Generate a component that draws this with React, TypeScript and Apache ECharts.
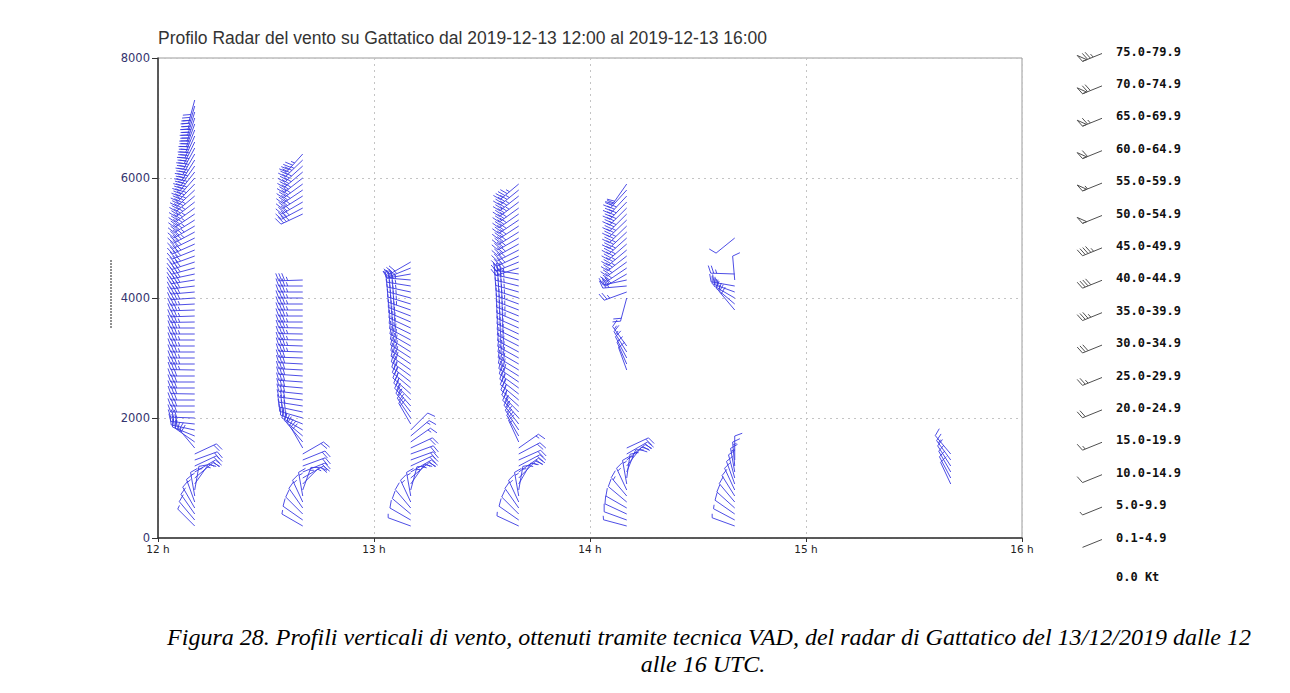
import React, { useEffect, useRef } from "react";
import * as echarts from "echarts";

// Observation times (decimal hours) of the seven VAD profiles
const TIMES = [12.17, 12.67, 13.17, 13.67, 14.17, 14.67, 15.67];

// Each profile: [height m, direction deg (from), speed kt]
const profile1210: number[][] = [
  [200, 315, 8], [300, 320, 10], [400, 325, 12], [500, 330, 14], [600, 340, 15], [700, 350, 16], [800, 10, 16], [900, 35, 18],
  [1000, 50, 18], [1100, 60, 20], [1200, 65, 22], [1300, 70, 22], [1400, 65, 20],
  [1500, 320, 22], [1600, 305, 25], [1700, 292, 28], [1800, 282, 30], [1900, 276, 30],
  [2000, 272, 30], [2100, 270, 31], [2200, 270, 32], [2300, 270, 32], [2400, 271, 33], [2500, 270, 33], [2600, 270, 34],
  [2700, 270, 34], [2800, 271, 35], [2900, 270, 35], [3000, 270, 35], [3100, 270, 36], [3200, 270, 36], [3300, 270, 37],
  [3400, 270, 37], [3500, 270, 38], [3600, 269, 38], [3700, 268, 38], [3800, 268, 39], [3900, 267, 39], [4000, 266, 40],
  [4100, 265, 40], [4200, 263, 40], [4300, 261, 41], [4400, 258, 41], [4500, 255, 42], [4600, 252, 42], [4700, 250, 43],
  [4800, 248, 43], [4900, 246, 44], [5000, 244, 44], [5100, 242, 45], [5200, 240, 45], [5300, 238, 45], [5400, 236, 46],
  [5500, 234, 46], [5600, 232, 46], [5700, 230, 47], [5800, 227, 47], [5900, 224, 47], [6000, 221, 48], [6100, 218, 48],
  [6200, 215, 48], [6300, 212, 48], [6400, 210, 49], [6500, 208, 49], [6600, 206, 49], [6700, 204, 49], [6800, 202, 48],
  [6900, 200, 47], [7000, 198, 46], [7100, 197, 44], [7200, 196, 42], [7300, 195, 40],
];

const profile1240: number[][] = [
  [200, 300, 8], [300, 305, 10], [400, 315, 12], [500, 325, 14], [600, 335, 15], [700, 350, 16], [800, 20, 16], [900, 45, 18],
  [1000, 60, 20], [1100, 68, 22], [1200, 70, 22], [1300, 68, 22], [1400, 60, 20],
  [1500, 330, 20], [1600, 320, 22], [1700, 310, 24], [1800, 300, 26], [1900, 292, 28], [2000, 286, 28], [2100, 282, 30],
  [2200, 279, 30], [2300, 277, 31], [2400, 276, 31], [2500, 275, 32], [2600, 274, 32], [2700, 274, 33], [2800, 273, 33],
  [2900, 273, 34], [3000, 272, 34], [3100, 272, 35], [3200, 272, 35], [3300, 271, 35], [3400, 271, 36], [3500, 271, 36],
  [3600, 270, 36], [3700, 270, 37], [3800, 270, 37], [3900, 270, 38], [4000, 270, 38], [4100, 270, 38], [4200, 270, 39],
  [4300, 268, 39],
  [5400, 245, 40], [5500, 242, 41], [5600, 240, 42], [5700, 238, 42], [5800, 236, 43], [5900, 234, 43], [6000, 232, 44],
  [6100, 230, 44], [6200, 228, 44], [6300, 226, 45], [6400, 222, 45],
];

const profile1310: number[][] = [
  [200, 290, 8], [300, 300, 10], [400, 310, 12], [500, 320, 14], [600, 335, 15], [700, 350, 16], [800, 15, 16], [900, 35, 18],
  [1000, 50, 18], [1100, 60, 20], [1200, 65, 22], [1300, 70, 22], [1400, 70, 22], [1500, 65, 20], [1600, 55, 18],
  [1700, 50, 16], [1800, 45, 14],
  [1900, 330, 20], [2000, 326, 22], [2100, 322, 24], [2200, 318, 25], [2300, 315, 26], [2400, 312, 27], [2500, 310, 28],
  [2600, 308, 28], [2700, 306, 29], [2800, 305, 30], [2900, 304, 30], [3000, 303, 31], [3100, 302, 31], [3200, 300, 32],
  [3300, 298, 32], [3400, 296, 33], [3500, 295, 33], [3600, 293, 34], [3700, 291, 34], [3800, 289, 35], [3900, 287, 35],
  [4000, 285, 36], [4100, 282, 36], [4200, 279, 37], [4300, 275, 37], [4400, 260, 36], [4500, 248, 35], [4600, 240, 34],
];

const profile1340: number[][] = [
  [200, 295, 8], [300, 305, 10], [400, 315, 12], [500, 325, 14], [600, 335, 15], [700, 350, 16], [800, 10, 17], [900, 30, 18],
  [1000, 45, 18], [1100, 55, 20], [1200, 62, 22], [1300, 66, 22], [1400, 62, 20], [1500, 55, 18],
  [1600, 335, 18], [1700, 330, 20], [1800, 326, 22], [1900, 322, 24], [2000, 318, 25], [2100, 315, 26], [2200, 312, 27],
  [2300, 310, 28], [2400, 308, 28], [2500, 306, 29], [2600, 304, 30], [2700, 302, 30], [2800, 301, 31], [2900, 300, 31],
  [3000, 299, 32], [3100, 298, 32], [3200, 297, 33], [3300, 296, 33], [3400, 295, 34], [3500, 294, 34], [3600, 293, 35],
  [3700, 292, 35], [3800, 291, 36], [3900, 290, 36], [4000, 288, 37], [4100, 286, 37], [4200, 284, 38], [4300, 282, 38],
  [4400, 279, 38],
  [4500, 252, 39], [4600, 248, 40], [4700, 245, 40], [4800, 243, 41], [4900, 241, 41], [5000, 240, 42], [5100, 238, 42],
  [5200, 237, 43], [5300, 236, 43], [5400, 235, 44], [5500, 234, 44], [5600, 233, 45], [5700, 232, 45], [5800, 231, 45],
  [5900, 230, 46],
];

const profile1410: number[][] = [
  [200, 285, 8], [300, 290, 10], [400, 295, 12], [500, 300, 13], [600, 310, 14], [700, 320, 15], [800, 335, 16], [900, 350, 17],
  [1000, 8, 18], [1100, 22, 18], [1200, 38, 20], [1300, 50, 20], [1400, 60, 22], [1500, 65, 22],
  [2800, 340, 12], [2900, 336, 14], [3000, 332, 14], [3100, 328, 15], [3200, 324, 16],
  [4000, 195, 20], [4100, 250, 25], [4200, 265, 28], [4300, 258, 30], [4400, 240, 32], [4500, 236, 33], [4600, 234, 34],
  [4700, 232, 35], [4800, 230, 36], [4900, 229, 36], [5000, 228, 37], [5100, 227, 38], [5200, 226, 38], [5300, 226, 39],
  [5400, 225, 40], [5500, 225, 40], [5600, 224, 41], [5700, 223, 42], [5800, 222, 30], [5900, 215, 20],
];

const profile1440: number[][] = [
  [200, 290, 8], [300, 298, 9], [400, 305, 10], [500, 312, 11], [600, 320, 12], [700, 328, 13], [800, 335, 13], [900, 340, 14],
  [1000, 345, 14], [1100, 350, 15], [1200, 355, 15], [1300, 0, 12],
  [3800, 320, 22], [3900, 310, 24], [4000, 300, 25], [4100, 290, 26], [4200, 280, 27], [4300, 355, 12], [4400, 272, 28],
  [5000, 231, 10],
];

const profile1540: number[][] = [
  [900, 335, 10], [1000, 332, 12], [1100, 330, 12], [1200, 327, 14], [1300, 324, 15], [1400, 320, 12],
];

const PROFILES = [profile1210, profile1240, profile1310, profile1340, profile1410, profile1440, profile1540];

// Legend (speed classes, knots)
const LEGEND_LABELS = [
  "75.0-79.9", "70.0-74.9", "65.0-69.9", "60.0-64.9", "55.0-59.9", "50.0-54.9", "45.0-49.9", "40.0-44.9",
  "35.0-39.9", "30.0-34.9", "25.0-29.9", "20.0-24.9", "15.0-19.9", "10.0-14.9", "5.0-9.9", "0.1-4.9",
];
const LEGEND_SPEEDS = [77, 72, 67, 62, 57, 52, 47, 42, 37, 32, 27, 22, 17, 12, 7, 2];

const TITLE = "Profilo Radar del vento su Gattatico dal 2019-12-13 12:00 al 2019-12-13 16:00";
const CAPTION_1 = "Figura 28. Profili verticali di vento, ottenuti tramite tecnica VAD, del radar di Gattatico del 13/12/2019 dalle 12";
const CAPTION_2 = "alle 16 UTC.";

type BarbOpts = { len: number; feather: number; gap: number; color: string; width: number };

function barbParts(sx: number, sy: number, dir: number, speed: number, o: BarbOpts) {
  const r = (dir * Math.PI) / 180;
  const ux = Math.sin(r);
  const uy = -Math.cos(r);
  const tx = sx + ux * o.len;
  const ty = sy + uy * o.len;
  const a = (70 * Math.PI) / 180;
  const fx = ux * Math.cos(a) - uy * Math.sin(a);
  const fy = ux * Math.sin(a) + uy * Math.cos(a);
  const st = () => ({ stroke: o.color, lineWidth: o.width, fill: null as any });
  const parts: any[] = [{ type: "line", shape: { x1: sx, y1: sy, x2: tx, y2: ty }, style: st() }];
  let n = Math.floor(speed / 5);
  const pen = Math.floor(n / 10);
  n -= pen * 10;
  const full = Math.floor(n / 2);
  const half = n % 2;
  let pos = 0;
  const at = (d: number) => [tx - ux * d, ty - uy * d];
  for (let i = 0; i < pen; i++) {
    const b0 = at(pos);
    const b1 = at(pos + o.gap * 1.5);
    const apex = [b0[0] + fx * o.feather, b0[1] + fy * o.feather];
    parts.push({ type: "polygon", shape: { points: [b0, apex, b1] }, style: st() });
    pos += o.gap * 1.5 + 1;
  }
  for (let i = 0; i < full; i++) {
    const b = at(pos);
    parts.push({ type: "line", shape: { x1: b[0], y1: b[1], x2: b[0] + fx * o.feather, y2: b[1] + fy * o.feather }, style: st() });
    pos += o.gap;
  }
  if (half) {
    const b = at(pos);
    parts.push({ type: "line", shape: { x1: b[0], y1: b[1], x2: b[0] + fx * o.feather * 0.5, y2: b[1] + fy * o.feather * 0.5 }, style: st() });
  }
  return parts;
}

const DATA_BARB: BarbOpts = { len: 24, feather: 8, gap: 3, color: "#3a3ae2", width: 0.9 };
const LEGEND_BARB: BarbOpts = { len: 21, feather: 8, gap: 3, color: "#505050", width: 1 };

export default function App() {
  const ref = useRef<HTMLDivElement>(null);
  useEffect(() => {
    if (!ref.current) return;
    const chart = echarts.init(ref.current, undefined, { renderer: "svg" });

    const seriesData: number[][] = [];
    PROFILES.forEach((prof, i) => prof.forEach(([h, d, s]) => seriesData.push([TIMES[i], h, d, s])));

    const legendEls: any[] = [];
    LEGEND_LABELS.forEach((lab, i) => {
      const y = 52.5 + i * 32.4;
      legendEls.push({
        type: "text", left: 1116, top: y - 7,
        style: { text: lab, font: "bold 12px 'DejaVu Sans Mono', monospace", fill: "#111" },
      });
      barbParts(1102, y + 1, 248, LEGEND_SPEEDS[i], LEGEND_BARB).forEach((p) => legendEls.push(p));
    });
    legendEls.push({
      type: "text", left: 1116, top: 578 - 7,
      style: { text: "0.0 Kt", font: "bold 12px 'DejaVu Sans Mono', monospace", fill: "#111" },
    });

    const option: any = {
      animation: false,
      backgroundColor: "#fff",
      grid: { left: 158, top: 58, width: 864, height: 480, show: true, borderColor: "#9a9a9a", borderWidth: 1 },
      xAxis: {
        type: "value", min: 12, max: 16, interval: 1,
        axisLine: { show: true, lineStyle: { color: "#333", width: 1.5 } },
        axisTick: { show: true, length: 4, lineStyle: { color: "#333" } },
        axisLabel: { formatter: (v: number) => `${v} h`, fontSize: 10.5, color: "#222", margin: 5, fontFamily: "DejaVu Sans" },
        splitLine: { show: true, lineStyle: { type: [2, 4], color: "#c4c4c4" } },
      },
      yAxis: {
        type: "value", min: 0, max: 8000, interval: 2000,
        axisLine: { show: true, lineStyle: { color: "#333", width: 1.5 } },
        axisTick: { show: true, length: 6, lineStyle: { color: "#333" } },
        axisLabel: { formatter: (v: number) => String(v), fontSize: 11.5, color: "#34346e", margin: 8, fontFamily: "DejaVu Sans" },
        splitLine: { show: true, lineStyle: { type: [2, 4], color: "#c4c4c4" } },
      },
      series: [
        {
          type: "custom",
          coordinateSystem: "cartesian2d",
          silent: true,
          clip: false,
          encode: { x: 0, y: 1 },
          data: seriesData,
          renderItem: (params: any, api: any) => {
            const p = api.coord([api.value(0), api.value(1)]);
            return { type: "group", children: barbParts(p[0], p[1], api.value(2), api.value(3), DATA_BARB) };
          },
        },
      ],
      graphic: [
        {
          type: "text", x: 158, y: 38,
          style: { text: TITLE, font: "17.5px 'Liberation Sans', Arial, sans-serif", fill: "#333", textVerticalAlign: "middle" },
        },
        {
          type: "line", shape: { x1: 111, y1: 260, x2: 111, y2: 328 },
          style: { stroke: "#222", lineWidth: 1, lineDash: [2, 1] },
        },
        ...legendEls,
        {
          type: "text", x: 709, y: 637,
          style: { text: CAPTION_1, font: "italic 24px 'Liberation Serif', 'Times New Roman', serif", fill: "#000", textAlign: "center", textVerticalAlign: "middle" },
        },
        {
          type: "text", x: 703, y: 664,
          style: { text: CAPTION_2, font: "italic 24px 'Liberation Serif', 'Times New Roman', serif", fill: "#000", textAlign: "center", textVerticalAlign: "middle" },
        },
      ],
    };
    chart.setOption(option);
    return () => chart.dispose();
  }, []);
  return (
    <div
      ref={ref}
      style={{ position: "fixed", left: 0, top: 0, width: 1290, height: 693, background: "#fff" }}
    />
  );
}
